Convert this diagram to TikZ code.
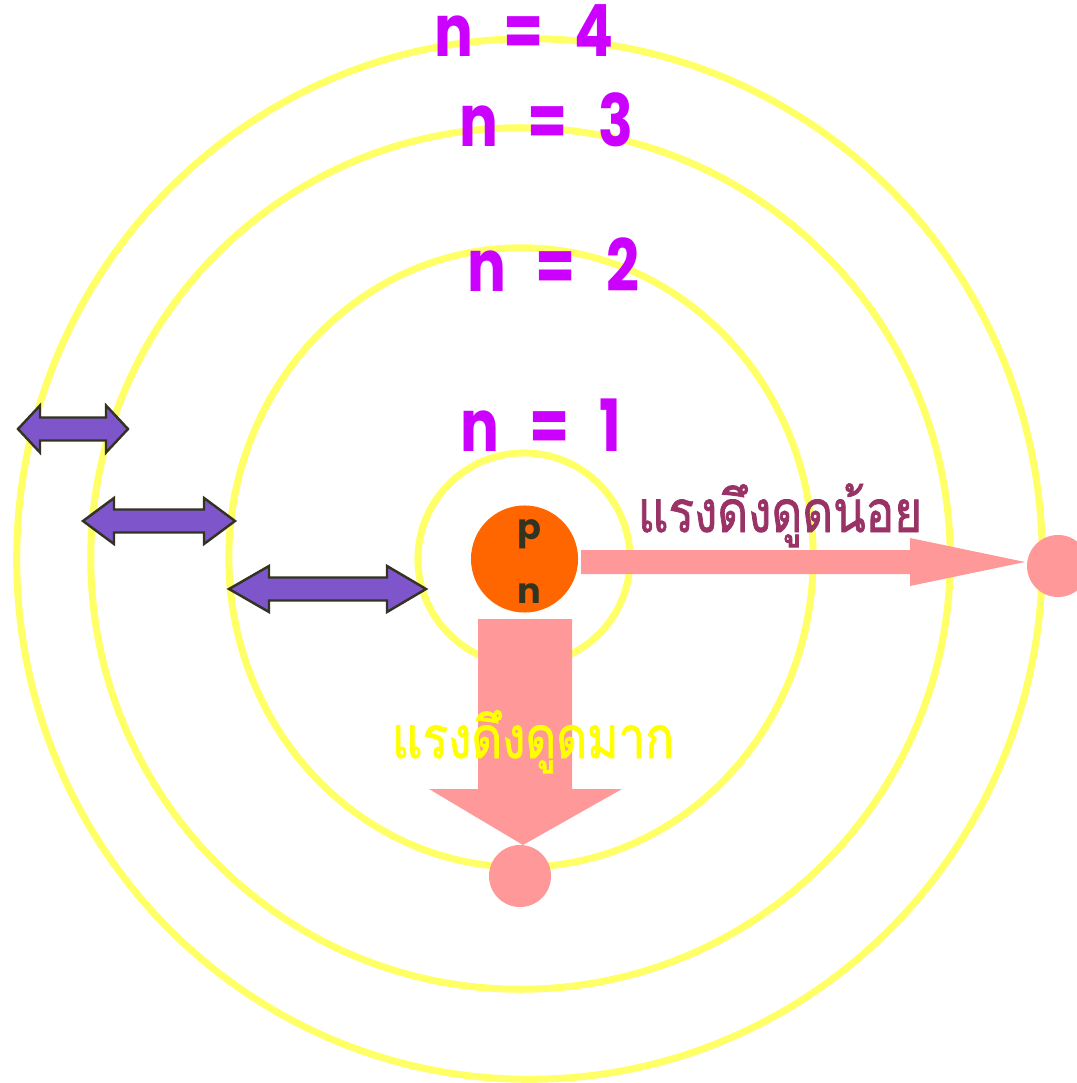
\documentclass[tikz,border=0pt]{standalone}
\usepackage{fontspec}
\setmainfont{Poppins}
\newfontfamily\thaifont[Script=Thai,FakeBold=1.5]{Loma}
\definecolor{orbitc}{HTML}{FFFF66}
\definecolor{labelc}{HTML}{CC00FF}
\definecolor{pinkc}{HTML}{FF9999}
\definecolor{nucc}{HTML}{FF6600}
\definecolor{darkc}{HTML}{333322}
\definecolor{purplec}{HTML}{7F55CB}
\definecolor{weakc}{HTML}{993366}
\definecolor{strongc}{HTML}{FFFF00}
\newcommand\dblarr[6]{%
  \fill[dblstyle] (#1,#5) -- (#2,#5-#6-11.5) -- (#2,#5-11.5) -- (#3,#5-11.5) -- (#3,#5-#6-11.5)
    -- (#4,#5) -- (#3,#5+#6+11.5) -- (#3,#5+11.5) -- (#2,#5+11.5) -- (#2,#5+#6+11.5) -- cycle;}
\newcommand\nlab[1]{\scalebox{0.8}[1]{n}\hspace{0.3cm}\scalebox{0.8}[1]{=}\hspace{0.3cm}\scalebox{0.8}[1]{#1}}
\begin{document}
\begin{tikzpicture}[x=0.01cm,y=-0.01cm,
  orbit/.style={draw=orbitc, line width=0.07cm},
  nlabel/.style={text=labelc, font=\fontsize{20.5}{24}\selectfont\bfseries, anchor=base, inner sep=0},
  electron/.style={circle, fill=pinkc, minimum size=0.62cm, inner sep=0},
  force/.style={fill=pinkc},
  dblstyle/.style={fill=purplec, draw=darkc, line width=0.7pt, line join=miter},
  thai/.style={font=\thaifont\fontsize{16.5}{19}\selectfont, anchor=base, inner sep=0}]
\useasboundingbox (0,0) rectangle (1077,1083);
% orbits
\draw[orbit] (529.5,559) ellipse [x radius=5.125cm, y radius=5.2cm];
\draw[orbit] (520.5,558.5) ellipse [x radius=4.295cm, y radius=4.305cm];
\draw[orbit] (521,557.5) ellipse [x radius=2.92cm, y radius=3.095cm];
\draw[orbit] (524,559) circle [radius=1.06cm];
% labels
\node[nlabel] (l4) at (524,57) {\nlab{4}};
\node[nlabel] (l3) at (546,147) {\nlab{3}};
\node[nlabel] (l2) at (553,292) {\nlab{2}};
\node[nlabel] (l1) at (541,452) {\nlab{1}};
% nucleus
\node[circle, fill=nucc, minimum size=1.07cm, inner sep=0] (nuc) at (524.5,559) {};
\node[text=darkc, font=\fontsize{10}{12}\selectfont\bfseries, anchor=base, inner sep=0] (p) at (529,540) {p};
\node[text=darkc, font=\fontsize{10}{12}\selectfont\bfseries, anchor=base, inner sep=0] (n) at (529,603) {n};
% electrons
\node[electron] (e2) at (520,876) {};
\node[electron] (e4) at (1058,566) {};
% force arrows
\fill[force] (581,550) -- (910,550) -- (910,538) -- (1025,562) -- (910,586) -- (910,574) -- (581,574) -- cycle;
\fill[force] (478,619) -- (572,619) -- (572,789) -- (622,789) -- (523,845) -- (429,789) -- (478,789) -- cycle;
% texts
\node[thai, text=weakc] (weak) at (780,532) {\scalebox{0.82}[1]{แรงดึงดูดน้อย}};
\node[thai, text=strongc] (strong) at (533,758) {\scalebox{0.82}[1]{แรงดึงดูดมาก}};
% double arrows
\dblarr{18}{40}{106}{128}{429}{12}
\dblarr{83}{114}{204}{235}{521}{11.5}
\dblarr{229}{269}{387}{426}{589}{11.5}
\end{tikzpicture}
\end{document}
